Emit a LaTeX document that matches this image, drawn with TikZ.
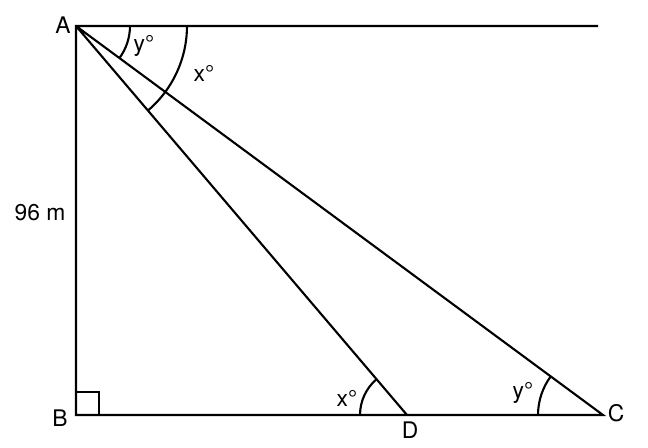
\documentclass[tikz,border=0pt]{standalone}
\usepackage{fontspec}
\setmainfont{TeX Gyre Heros}
\usetikzlibrary{angles, positioning}
\tikzset{
  x=0.02cm,
  y=-0.02cm,
  every node/.style={font=\fontsize{13}{15}\selectfont, inner sep=1pt},
  edge line/.style={line width=1.2pt},
  mark arc/.style={draw, line width=1.2pt},
}

\begin{document}
\begin{tikzpicture}
      \useasboundingbox (0,0) rectangle (648,447);
      \coordinate (A) at (76,26);
      \coordinate (B) at (76,415);
      \coordinate (D) at (407,415);
      \coordinate (C) at (603,415);
      \coordinate (E) at (598,26);
      \coordinate (Bu) at (76,392);
      \coordinate (Br) at (99,415);

      \draw[edge line] (E) -- (A) -- (B) -- (C) -- (A)
                       (A) -- (D);
      \draw[line width=0.9pt] (Bu) -| (Br);

      \pic[mark arc, angle radius=1.08cm] {angle = C--A--E};
      \pic[mark arc, angle radius=2.22cm] {angle = D--A--E};
      \pic[mark arc, angle radius=0.94cm] {angle = A--D--B};
      \pic[mark arc, angle radius=1.3cm]  {angle = A--C--B};

      \node (lA) at (63,25)  {A};
      \node (lB) at (60,418) {B};
      \node (lD) at (410,430) {D};
      \node (lC) at (616,413) {C};
      \node (lh) at (40,213) {96 m};
      \node (ly1) at (144,46) {y°};
      \node (lx1) at (204,73) {x°};
      \node (lx2) at (347,398) {x°};
      \node (ly2) at (523,393) {y°};
    \end{tikzpicture}
\end{document}
